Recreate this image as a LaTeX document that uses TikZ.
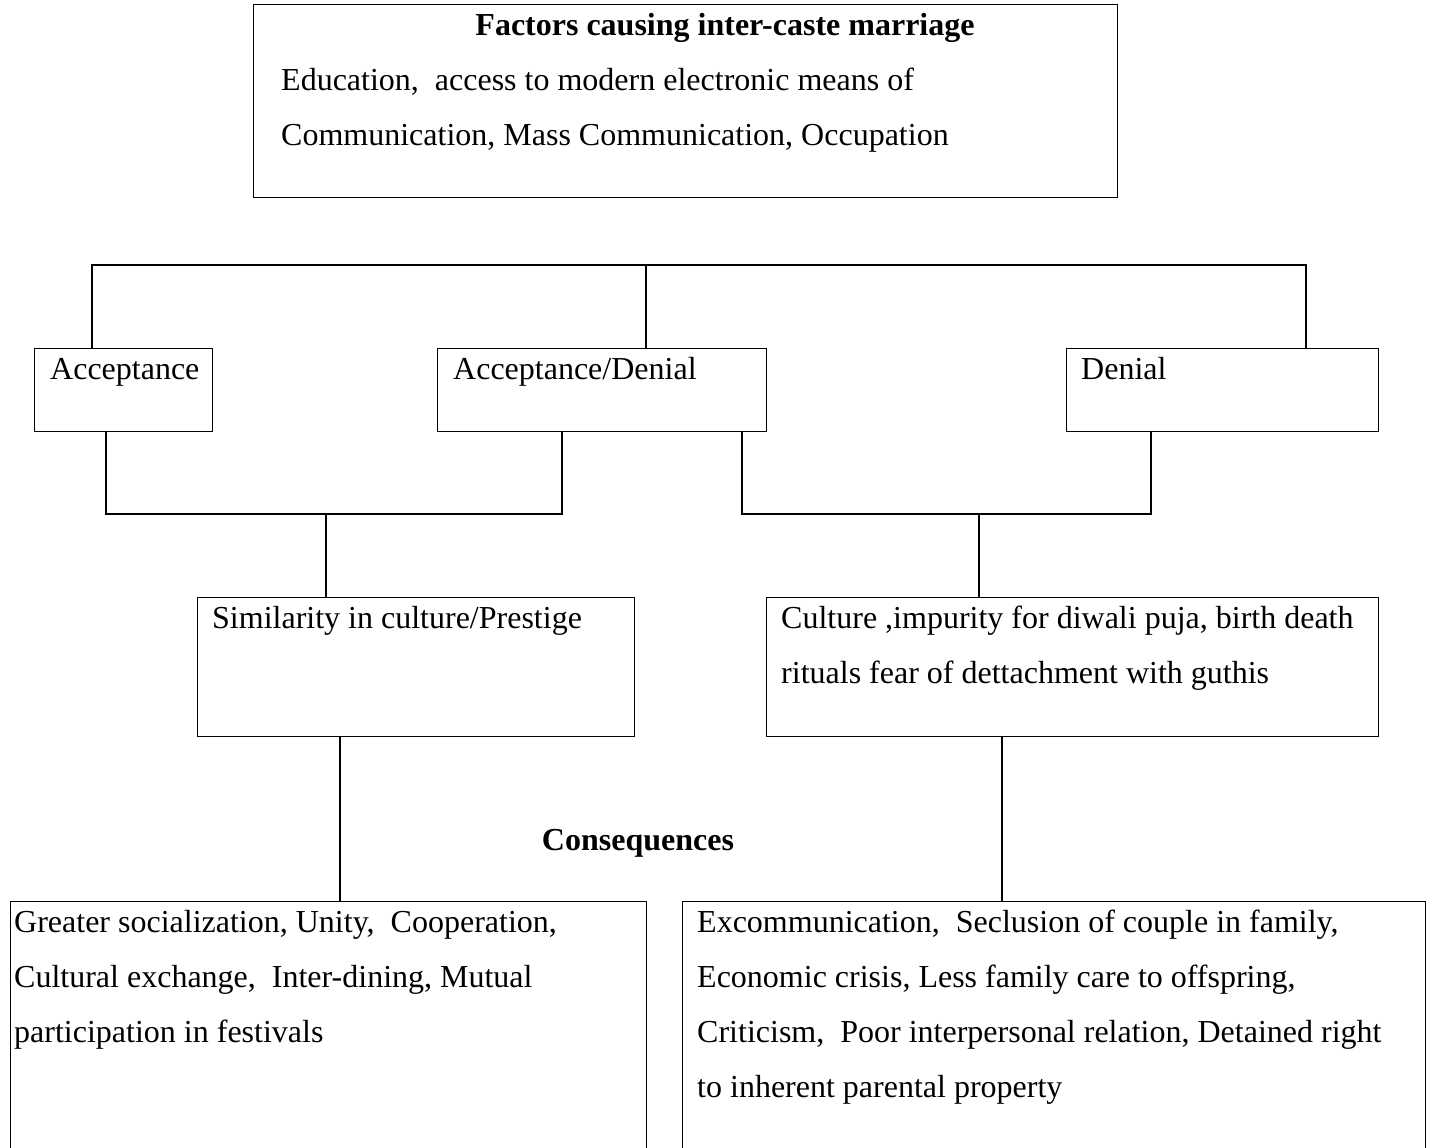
\documentclass[tikz,border=0pt]{standalone}
\usepackage{fontspec}
\setmainfont{Liberation Serif}
\begin{document}
\begin{tikzpicture}[x=1pt,y=-1pt,
  box/.style={draw,line width=1.2pt,inner sep=0pt,anchor=north west},
  txt/.style={anchor=base west,inner sep=0pt,font=\fontsize{32}{55}\selectfont},
  ttl/.style={anchor=base,inner sep=0pt,font=\fontsize{32}{55}\selectfont\bfseries},
  conn/.style={line width=1.2pt}]
\useasboundingbox (0,0) rectangle (1429,1148);
\clip (0,0) rectangle (1429,1148);
\fill[white] (0,0) rectangle (1429,1148);
% boxes
\node[box,minimum width=864pt,minimum height=193pt] (top) at (253,4) {};
\node[box,minimum width=178pt,minimum height=83pt] (acc) at (34,348) {};
\node[box,minimum width=329pt,minimum height=83pt] (ad) at (437,348) {};
\node[box,minimum width=312pt,minimum height=83pt] (den) at (1066,348) {};
\node[box,minimum width=437pt,minimum height=139pt] (sim) at (197,597) {};
\node[box,minimum width=612pt,minimum height=139pt] (cult) at (766,597) {};
\node[box,minimum width=636pt,minimum height=280pt] (pos) at (10,901) {};
\node[box,minimum width=743pt,minimum height=280pt] (neg) at (682,901) {};
% texts
\node[ttl] (title) at (725,36) {Factors causing inter-caste marriage};
\node[txt] (f1) at (281,90) {Education, \ access to modern electronic means of};
\node[txt] (f2) at (281,145) {Communication, Mass Communication, Occupation};
\node[txt] (tacc) at (50,379) {Acceptance};
\node[txt] (tad) at (453,379) {Acceptance/Denial};
\node[txt] (tden) at (1081,379) {Denial};
\node[txt] (tsim) at (212,628) {Similarity in culture/Prestige};
\node[txt] (tc1) at (781,628) {Culture ,impurity for diwali puja, birth death};
\node[txt] (tc2) at (781,683) {rituals fear of dettachment with guthis};
\node[ttl] (cons) at (638,850) {Consequences};
\node[txt] (p1) at (14,932) {Greater socialization, Unity, \ Cooperation,};
\node[txt] (p2) at (14,987) {Cultural exchange, \ Inter-dining, Mutual};
\node[txt] (p3) at (14,1042) {participation in festivals};
\node[txt] (n1) at (697,932) {Excommunication, \ Seclusion of couple in family,};
\node[txt] (n2) at (697,987) {Economic crisis, Less family care to offspring,};
\node[txt] (n3) at (697,1042) {Criticism, \ Poor interpersonal relation, Detained right};
\node[txt] (n4) at (697,1097) {to inherent parental property};
% junction coordinates
\coordinate (j1) at (92,265);
\coordinate (j2) at (646,265);
\coordinate (j3) at (1306,265);
\coordinate (k1) at (106,514);
\coordinate (k2) at (562,514);
\coordinate (k3) at (326,514);
\coordinate (m1) at (742,514);
\coordinate (m2) at (1151,514);
\coordinate (m3) at (979,514);
\coordinate (s1) at (340,0);
\coordinate (s2) at (1002,0);
% connectors
\draw[conn] (acc.north -| j1) -- (j1) -- (j3) -- (den.north -| j3);
\draw[conn] (j2) -- (ad.north -| j2);
\draw[conn] (acc.south -| k1) -- (k1) -- (k2) -- (ad.south -| k2);
\draw[conn] (k3) -- (sim.north -| k3);
\draw[conn] (ad.south -| m1) -- (m1) -- (m2) -- (den.south -| m2);
\draw[conn] (m3) -- (cult.north -| m3);
\draw[conn] (sim.south -| s1) -- (pos.north -| s1);
\draw[conn] (cult.south -| s2) -- (neg.north -| s2);
\end{tikzpicture}
\end{document}
